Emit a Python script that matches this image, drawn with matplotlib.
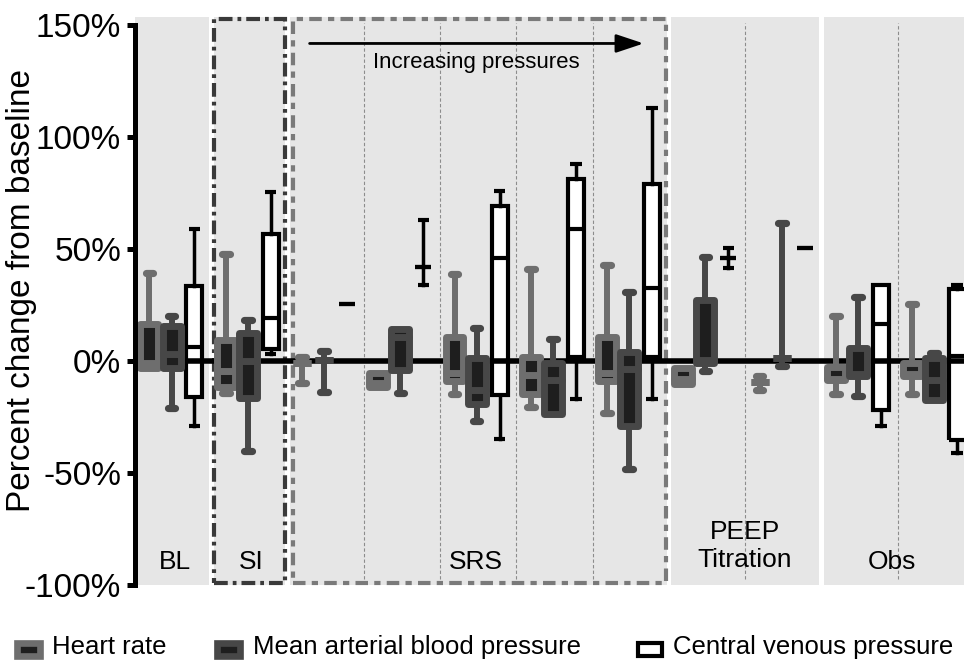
import matplotlib
matplotlib.use("Agg")
import matplotlib.pyplot as plt
from matplotlib.patches import Rectangle

plt.rcParams['font.family'] = ['Liberation Sans', 'DejaVu Sans']

# one unit per group along x: BL, SI, SRS x5, PEEP x2, Obs x2
groups = ["BL", "SI", "SRS1", "SRS2", "SRS3", "SRS4", "SRS5",
          "PEEP1", "PEEP2", "Obs1", "Obs2"]

# (min, q1, median, q3, max) in % change from baseline
hr_stats = [
    (-3.3, -3.3, -1.1, 16.7, 39.4),
    (-14.4, -11.4, -4.4, 9.3, 47.7),
    (-9.7, -1.0, -1.0, -1.0, 1.9),
    (-11.7, -11.7, -10.0, -5.3, -5.3),
    (-14.6, -8.8, -5.3, 10.9, 38.9),
    (-20.4, -14.8, -6.2, 1.6, 41.0),
    (-23.3, -8.8, -5.3, 10.8, 42.8),
    (-10.2, -10.2, -8.0, -3.0, -3.0),
    (-12.9, -9.5, -9.5, -9.5, -6.5),
    (-14.7, -8.6, -7.9, -2.6, 20.0),
    (-14.7, -6.6, -6.0, -1.1, 25.4),
]
map_stats = [
    (-21.1, -3.3, 3.1, 15.4, 20.0),
    (-40.4, -16.6, 0.2, 12.7, 18.3),
    (-14.0, 0.4, 0.4, 0.4, 4.6),
    (-14.1, -3.9, 10.9, 14.2, 14.2),
    (-26.7, -19.1, -12.8, 1.1, 14.8),
    (-23.5, -23.5, -8.7, -1.1, 9.7),
    (-48.1, -29.2, -3.6, 3.8, 30.7),
    (-4.5, -0.7, 0.4, 27.2, 46.2),
    (-2.1, 1.5, 1.5, 1.5, 61.6),
    (-15.5, -6.9, -5.6, 5.6, 28.7),
    (-17.4, -17.4, -8.5, 1.3, 3.5),
]
cvp_stats = [
    (-29.0, -15.9, 6.1, 33.4, 58.8),
    (3.1, 5.2, 19.3, 56.6, 75.3),
    (25.4, 25.4, 25.4, 25.4, 25.4),
    (33.9, 41.8, 41.8, 41.8, 62.8),
    (-34.9, -15.4, 45.8, 69.2, 75.8),
    (-17.1, 1.6, 58.8, 81.0, 87.8),
    (-17.1, 1.6, 32.7, 78.9, 113.0),
    (41.6, 46.0, 46.0, 46.0, 50.2),
    (50.2, 50.2, 50.2, 50.2, 50.2),
    (-29.0, -21.8, 16.5, 33.9, 33.9),
    (-41.0, -35.2, 2.0, 32.0, 33.9),
]

panel_names = ["BL", "SI", "SRS", "PEEP\nTitration", "Obs"]
panel_spans = [(0, 1), (1, 2), (2, 7), (7, 9), (9, 11)]
sub_lines = [3, 4, 5, 6, 8, 10]
yticks = [-100, -50, 0, 50, 100, 150]

legend_labels = ["Heart rate", "Mean arterial blood pressure", "Central venous pressure"]

PANEL = '#e6e6e6'
DARK = '#1e1e1e'
HR_C = '#6e6e6e'
MAP_C = '#474747'

fig = plt.figure(figsize=(9.64, 6.6), dpi=100)
ax = fig.add_axes([0.140, 0.1136, 0.860, 0.8606])
ax.set_xlim(0, 10.87)
ax.set_ylim(-100, 153.5)

# grey background panels
for i, (a, b) in enumerate(panel_spans):
    left = a if i == 0 else a + 0.03
    ax.axvspan(left, b - 0.03, color=PANEL, zorder=0, lw=0)

for x in sub_lines:
    ax.axvline(x, ymin=0.01, ymax=0.99, color='#8c8c8c', lw=0.8,
               ls=(0, (3, 2)), zorder=1)

# dashed frames around SI and SRS
ax.add_patch(Rectangle((1.04, -99.3), 0.93, 252.0, fill=False, edgecolor='#3a3a3a',
                       lw=3, ls=(0, (3.3, 1.2, 0.9, 1.2)), clip_on=False, zorder=1.5))
ax.add_patch(Rectangle((2.07, -99.3), 4.89, 252.0, fill=False, edgecolor='#7a7a7a',
                       lw=3, ls=(0, (3.0, 1.5, 1.5, 1.5)), clip_on=False, zorder=1.5))

ax.axhline(0, color='black', lw=4, zorder=3)


def grey_box(xc, s, edge, w=0.235, z=5):
    lo, q1, med, q3, hi = s
    if hi > q3:
        ax.plot([xc, xc], [q3, hi], color=edge, lw=4.3, zorder=z)
        ax.plot([xc - 0.05, xc + 0.05], [hi, hi], color=edge, lw=5.2,
                solid_capstyle='round', zorder=z)
    if lo < q1:
        ax.plot([xc, xc], [lo, q1], color=edge, lw=4.3, zorder=z)
        ax.plot([xc - 0.05, xc + 0.05], [lo, lo], color=edge, lw=5.2,
                solid_capstyle='round', zorder=z)
    # box drawn as two halves, each with its own border
    for a, b in [(q1, med), (med, q3)]:
        ax.add_patch(Rectangle((xc - w / 2, a), w, b - a, facecolor=DARK,
                               edgecolor=edge, lw=5, joinstyle='round', zorder=z))


def open_box(xc, s, w=0.21):
    lo, q1, med, q3, hi = s
    if hi > q3:
        ax.plot([xc, xc], [q3, hi], color='black', lw=2.5, zorder=4)
        ax.plot([xc - 0.075, xc + 0.075], [hi, hi], color='black', lw=3,
                solid_capstyle='butt', zorder=4)
    if lo < q1:
        ax.plot([xc, xc], [lo, q1], color='black', lw=2.5, zorder=4)
        ax.plot([xc - 0.075, xc + 0.075], [lo, lo], color='black', lw=3,
                solid_capstyle='butt', zorder=4)
    ax.add_patch(Rectangle((xc - w / 2, q1), w, q3 - q1, facecolor='white',
                           edgecolor='none', zorder=2))
    ax.add_patch(Rectangle((xc - w / 2, q1), w, q3 - q1, fill=False,
                           edgecolor='black', lw=3, zorder=4))
    ax.plot([xc - w / 2, xc + w / 2], [med, med], color='black', lw=3,
            solid_capstyle='butt', zorder=4)


for i in range(len(groups)):
    open_box(i + 0.78, cvp_stats[i])
    grey_box(i + 0.19, hr_stats[i], HR_C)
    grey_box(i + 0.48, map_stats[i], MAP_C)

# arrow + caption
ax.annotate('', xy=(6.67, 141.7), xytext=(2.29, 141.7),
            arrowprops=dict(arrowstyle='-|>,head_length=0.6,head_width=0.2',
                            lw=2, color='black', mutation_scale=28,
                            shrinkA=0, shrinkB=0), zorder=6)
ax.text(4.48, 133.2, "Increasing pressures", ha='center', va='center', fontsize=16)

# panel names
label_x = [0.52, 1.52, 4.47, 8.0, 9.93]
for name, x in zip(panel_names, label_x):
    yy = -82.5 if "\n" in name else -89.6
    ax.text(x, yy, name, ha='center', va='center', fontsize=19,
            multialignment='center', linespacing=1.2, zorder=6)

# axes styling
for side in ['top', 'right', 'bottom']:
    ax.spines[side].set_visible(False)
ax.spines['left'].set_linewidth(3.6)
ax.spines['left'].set_bounds(-100, 150)
ax.spines['left'].set_zorder(7)
ax.set_yticks(yticks)
ax.set_yticklabels([f"{v}%" for v in yticks])
ax.tick_params(axis='y', direction='out', length=6, width=3.6, pad=4, labelsize=24)
ax.set_xticks([])

fig.text(22 / 964, (660 - 290) / 660, "Percent change from baseline",
         rotation=90, ha='center', va='center', fontsize=24)

# legend drawn by hand along the bottom edge
W, H = 964.0, 660.0
handles = [
    (16.5, HR_C, DARK, 4.8),
    (216.5, MAP_C, DARK, 4.8),
    (638.0, 'black', 'white', 3.0),
]
text_x = [52, 253, 673]
for (hx, ec, fc, lw), tx, lab in zip(handles, text_x, legend_labels):
    fig.add_artist(Rectangle((hx / W, (H - 655.5) / H), 23.5 / W, 12.5 / H,
                             transform=fig.transFigure, facecolor=fc,
                             edgecolor=ec, lw=lw))
    fig.text(tx / W, (H - 654) / H, lab, ha='left', va='baseline', fontsize=18.5)

fig.savefig("out.png", dpi=100)
